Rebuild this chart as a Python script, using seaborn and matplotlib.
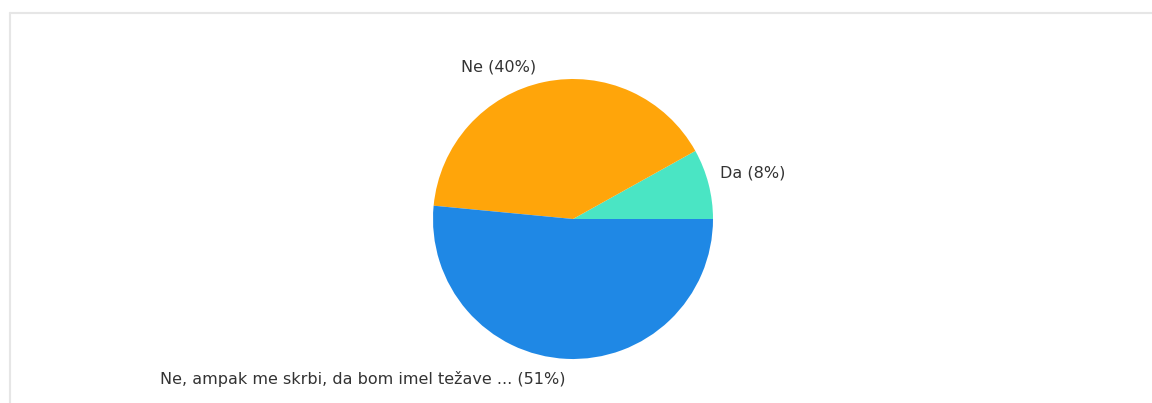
import matplotlib
matplotlib.use("Agg")
import matplotlib.pyplot as plt
from matplotlib.lines import Line2D
import seaborn as sns

categories = ["Da", "Ne", "Ne, ampak me skrbi, da bom imel težave ..."]
shares = [8, 40, 51]
slice_colors = ["#4ae5c4", "#ffa50a", "#1f88e5"]

sns.set_theme(style="white")
plt.rcParams["font.family"] = ["DejaVu Sans"]

W, H = 1152, 403
fig = plt.figure(figsize=(W / 100, H / 100), dpi=100)
ax = fig.add_axes([0, 0, 1, 1])

cx, cy, r = 573, H - 219, 140
ax.pie(shares, colors=slice_colors, startangle=0, counterclock=True,
       center=(cx, cy), radius=r, frame=True,
       wedgeprops=dict(linewidth=0))
ax.set_xlim(0, W)
ax.set_ylim(0, H)
ax.set_aspect("equal")
ax.axis("off")

labels = [f"{c} ({v}%)" for c, v in zip(categories, shares)]
txt = dict(fontsize=11.5, color="#333333", va="center")
ax.text(720, H - 173, labels[0], ha="left", **txt)
ax.text(499, H - 67, labels[1], ha="center", **txt)
ax.text(160, H - 379, labels[2], ha="left", **txt)

# light outer frame
frame_c = "#e6e6e6"
fig.add_artist(Line2D([10 / W, 10 / W], [0, 1 - 13 / H], color=frame_c, lw=1.5,
                      transform=fig.transFigure))
fig.add_artist(Line2D([10 / W, 1], [1 - 13 / H, 1 - 13 / H], color=frame_c, lw=1.5,
                      transform=fig.transFigure))

fig.savefig("out.png", dpi=100, facecolor="white")
